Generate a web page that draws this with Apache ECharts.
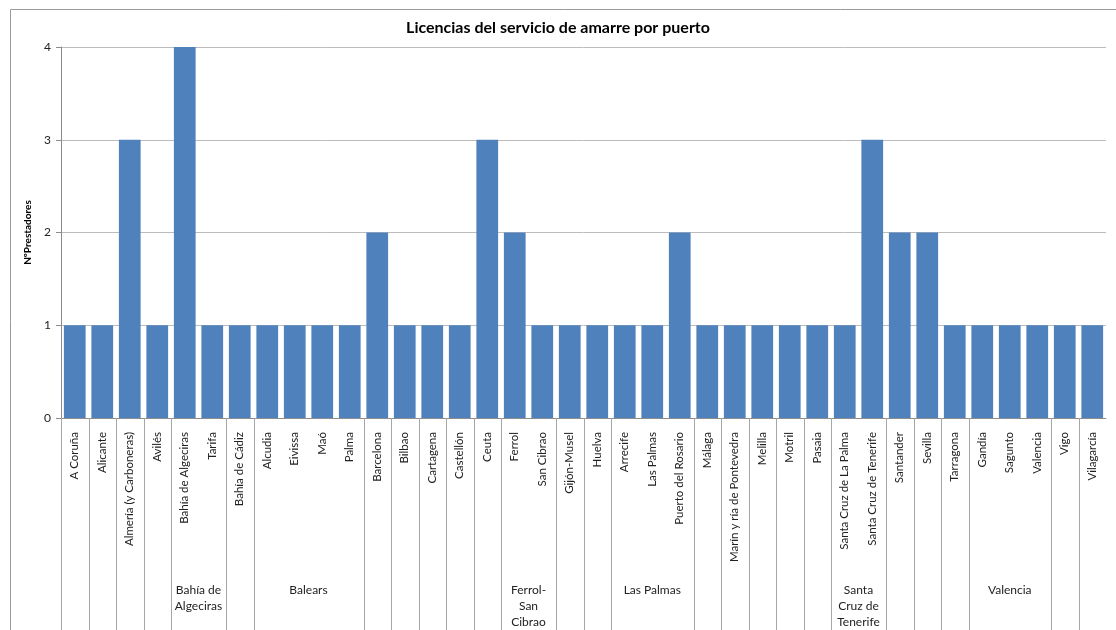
<!DOCTYPE html>
<html>
<head>
<meta charset="utf-8">
<script src="https://cdn.jsdelivr.net/npm/echarts@6/dist/echarts.min.js"></script>
<style>
  html, body { margin: 0; padding: 0; background: #fff; }
  #chart { width: 1116px; height: 630px; }
</style>
</head>
<body>
<div id="chart"></div>
<script>
// Puertos (nivel inferior del eje)
const ports = [
  'A Coruña', 'Alicante', 'Almería (y Carboneras)', 'Avilés',
  'Bahía de Algeciras', 'Tarifa', 'Bahía de Cádiz',
  'Alcudia', 'Eivissa', 'Maó', 'Palma',
  'Barcelona', 'Bilbao', 'Cartagena', 'Castellón', 'Ceuta',
  'Ferrol', 'San Cibrao', 'Gijón-Musel', 'Huelva',
  'Arrecife', 'Las Palmas', 'Puerto del Rosario',
  'Málaga', 'Marín y ría de Pontevedra', 'Melilla', 'Motril', 'Pasaia',
  'Santa Cruz de La Palma', 'Santa Cruz de Tenerife',
  'Santander', 'Sevilla', 'Tarragona',
  'Gandía', 'Sagunto', 'Valencia', 'Vigo', 'Vilagarcía'
];

// Autoridad portuaria que agrupa varios puertos ('' = sin agrupar)
const authorities = [
  '', '', '', '',
  'Bahía de\nAlgeciras', 'Bahía de\nAlgeciras', '',
  'Balears', 'Balears', 'Balears', 'Balears',
  '', '', '', '', '',
  'Ferrol-\nSan\nCibrao', 'Ferrol-\nSan\nCibrao', '', '',
  'Las Palmas', 'Las Palmas', 'Las Palmas',
  '', '', '', '', '',
  'Santa\nCruz de\nTenerife', 'Santa\nCruz de\nTenerife',
  '', '', '',
  'Valencia', 'Valencia', 'Valencia', '', ''
];

// Nº de prestadores del servicio de amarre
const providers = [
  1, 1, 3, 1,
  4, 1, 1,
  1, 1, 1, 1,
  2, 1, 1, 1, 3,
  2, 1, 1, 1,
  1, 1, 2,
  1, 1, 1, 1, 1,
  1, 3,
  2, 2, 1,
  1, 1, 1, 1, 1
];

const yTicks = [0, 1, 2, 3, 4];

// Tramos del eje: cada puerto suelto o cada grupo de puertos
const spans = [];
for (let i = 0; i < ports.length; i++) {
  const g = authorities[i];
  const last = spans[spans.length - 1];
  if (g && last && last[2] === g) {
    last[1] = i;
  } else {
    spans.push([i, i, g]);
  }
}

const FONT = 'Lato, "Open Sans", sans-serif';
const chart = echarts.init(document.getElementById('chart'));

chart.setOption({
  animation: false,
  title: {
    text: 'Licencias del servicio de amarre por puerto',
    left: 'center',
    top: 15,
    textStyle: { fontFamily: FONT, fontSize: 16, fontWeight: 'bold', color: '#000' }
  },
  graphic: [{
    type: 'rect',
    silent: true,
    shape: { x: 10.5, y: 9.5, width: 1120, height: 640 },
    style: { fill: 'none', stroke: '#9a9a9a', lineWidth: 1 }
  }],
  grid: { left: 61, right: 10, top: 47, bottom: 212, containLabel: false },
  xAxis: {
    type: 'category',
    data: ports,
    axisLine: { lineStyle: { color: '#8c8c8c', width: 1 } },
    axisTick: { show: false },
    axisLabel: {
      interval: 0,
      rotate: 90,
      margin: 14,
      fontFamily: FONT,
      fontSize: 11.5,
      color: '#222'
    }
  },
  yAxis: {
    type: 'value',
    min: yTicks[0],
    max: yTicks[yTicks.length - 1],
    interval: 1,
    name: 'NºPrestadores',
    nameLocation: 'middle',
    nameGap: 26,
    nameRotate: 90,
    nameTextStyle: { fontFamily: FONT, fontSize: 10, fontWeight: 'bold', color: '#000' },
    axisLine: { show: true, lineStyle: { color: '#8c8c8c' } },
    axisTick: { show: true, length: 5, lineStyle: { color: '#8c8c8c' } },
    axisLabel: { fontFamily: FONT, fontSize: 12, color: '#222', margin: 10 },
    splitLine: { lineStyle: { color: '#bcbcbc', width: 1 } }
  },
  series: [
    {
      type: 'bar',
      data: providers,
      barCategoryGap: '21%',
      itemStyle: { color: '#4f81bd' },
      silent: true
    },
    {
      // Separadores del eje de categorías y rótulos de grupo
      type: 'custom',
      silent: true,
      clip: false,
      z: 1,
      encode: { x: [0, 1] },
      data: spans,
      renderItem: function (params, api) {
        const band = api.size([1, 0])[0];
        const xStart = api.coord([api.value(0), 0])[0] - band / 2;
        const xEnd = api.coord([api.value(1), 0])[0] + band / 2;
        const yBase = api.coord([api.value(0), 0])[1];
        const xl = Math.round(xStart) + 0.5;
        const children = [{
          type: 'line',
          shape: { x1: xl, y1: yBase, x2: xl, y2: api.getHeight() },
          style: { stroke: '#a6a6a6', lineWidth: 1 }
        }];
        const label = spans[params.dataIndex][2];
        if (label) {
          children.push({
            type: 'text',
            style: {
              text: label,
              x: (xStart + xEnd) / 2,
              y: 582,
              align: 'center',
              verticalAlign: 'top',
              fontFamily: FONT,
              fontSize: 12,
              lineHeight: 16,
              fill: '#222'
            }
          });
        }
        return { type: 'group', children: children };
      }
    }
  ]
});
</script>
</body>
</html>
